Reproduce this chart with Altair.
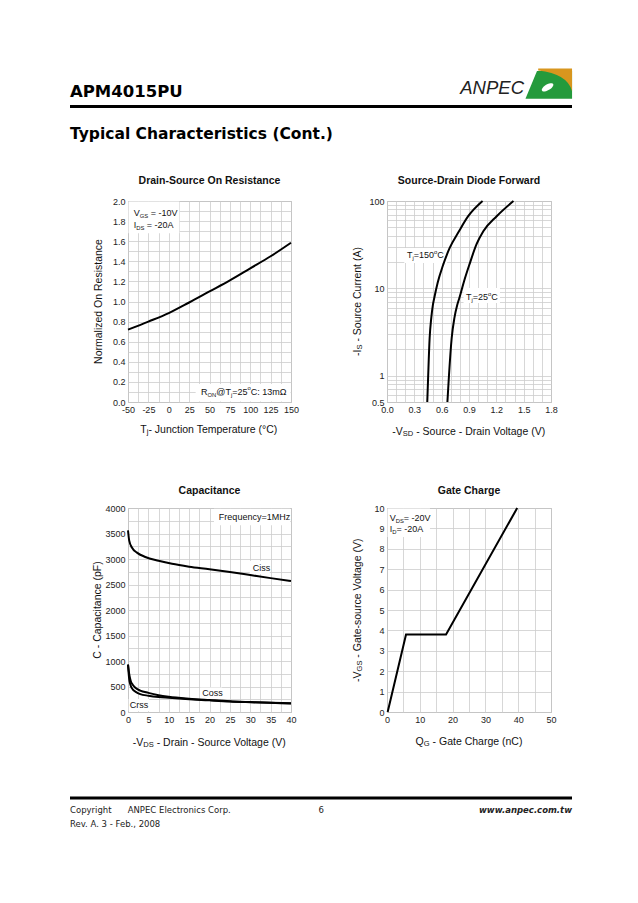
import json
import math
import altair as alt
import pandas as pd

FONT = "Liberation Sans"
PAGE_FONT = "DejaVu Sans"

# ---------------- data ----------------
tj_c = [-50, -25, 0, 25, 50, 75, 100, 125, 150]
ron_norm = [0.72, 0.80, 0.885, 0.99, 1.10, 1.21, 1.33, 1.45, 1.585]

is_150 = [0.5, 1, 2.7, 4.6, 6.4, 7.6, 11.6, 18, 29, 45, 67, 100]
vsd_150 = [0.442, 0.452, 0.468, 0.486, 0.503, 0.517, 0.556, 0.612, 0.688, 0.79, 0.891, 1.049]
is_25 = [0.5, 1, 2.7, 4.6, 6.4, 7.8, 12, 18.8, 32, 45, 67, 100]
vsd_25 = [0.663, 0.68, 0.71, 0.74, 0.77, 0.795, 0.845, 0.905, 0.983, 1.057, 1.204, 1.388]

vds_ciss = [0, 0.3, 1, 2.2, 4.25, 7.5, 10.8, 15, 20, 25, 30, 35, 40]
ciss_pf = [3560, 3360, 3220, 3125, 3040, 2965, 2905, 2850, 2800, 2745, 2685, 2625, 2570]
vds_cap = [0, 0.3, 0.65, 1.2, 1.9, 3, 5, 7.5, 10, 15, 20, 25, 30, 35, 40]
coss_pf = [930, 740, 610, 530, 470, 420, 375, 330, 300, 262, 235, 210, 195, 182, 170]
crss_pf = [930, 640, 520, 440, 395, 350, 320, 295, 280, 252, 228, 206, 192, 180, 168]

qg_nc = [0.2, 5.8, 18, 39.7]
vgs_v = [0, 3.8, 3.8, 10]

# grid / tick values
p1_x_grid = [-50 + 12.5 * i for i in range(17)]
p1_x_lab = [-50, -25, 0, 25, 50, 75, 100, 125, 150]
p1_y_grid = [round(0.1 * i, 1) for i in range(21)]
p1_y_lab = [round(0.2 * i, 1) for i in range(11)]
p2_x_grid = [round(0.1 * i, 1) for i in range(19)]
p2_x_lab = [0.0, 0.3, 0.6, 0.9, 1.2, 1.5, 1.8]
p2_y_grid = [0.5, 0.6, 0.7, 0.8, 0.9] + list(range(1, 10)) + list(range(10, 100, 10)) + [100]
p2_y_lab = [0.5, 1, 10, 100]
p3_x_grid = [2.5 * i for i in range(17)]
p3_x_lab = [5 * i for i in range(9)]
p3_y_grid = [250 * i for i in range(17)]
p3_y_lab = [500 * i for i in range(9)]
p4_x_grid = [5 * i for i in range(11)]
p4_x_lab = [10 * i for i in range(6)]
p4_y_grid = [0.5 * i for i in range(21)]
p4_y_lab = list(range(11))

ONE = pd.DataFrame({"a": [0]})

# approximate Arial advance widths (per 1000 em) for laying out sub/superscripts
W = {" ": 278, "=": 584, "-": 333, "@": 1015, ":": 278, ".": 278, "Ω": 768, "(": 333, ")": 333,
     "°": 400, "A": 667, "B": 667, "C": 722, "D": 722, "E": 667, "F": 611, "G": 778, "H": 722,
     "I": 278, "J": 500, "M": 833, "N": 722, "O": 778, "P": 667, "Q": 778, "R": 722, "S": 667,
     "T": 611, "V": 667, "a": 556, "b": 556, "c": 500, "d": 556, "e": 556, "f": 278, "g": 556,
     "h": 556, "i": 222, "j": 222, "k": 500, "l": 222, "m": 833, "n": 556, "o": 556, "p": 556,
     "q": 556, "r": 333, "s": 500, "t": 278, "u": 556, "v": 500, "w": 722, "y": 500, "z": 500}


def tw(s):
    return sum(W.get(c, 556) for c in s) / 1000.0


def label_expr(labels):
    return ("indexof(%s, datum.value) >= 0 ? replace(datum.label, '\u2212', '-') : ''"
            % json.dumps(labels))


class Enc:
    def __init__(self, sx, sy, ax, ay):
        self.sx, self.sy, self.ax, self.ay = sx, sy, ax, ay

    def X(self, f="x"):
        return alt.X(f + ":Q", scale=self.sx, axis=self.ax)

    def Y(self, f="y"):
        return alt.Y(f + ":Q", scale=self.sy, axis=self.ay)


def run_layers(runs, size, enc_fn, df, center=False, angle=0, sub_scale=0.65, sub_dy=3):
    """Text runs (normal / subscript / superscript) laid out with pixel offsets."""
    sizes = [size if k == "n" else size * sub_scale for _, k in runs]
    total = sum(tw(t) * s for (t, _), s in zip(runs, sizes))
    off = -total / 2 if center else 0.0
    out = []
    for (text, kind), fs in zip(runs, sizes):
        lead = len(text) - len(text.lstrip(" "))
        off += tw(" ") * fs * lead
        body = text.lstrip(" ")
        dy = {"n": 0, "sub": sub_dy, "sup": -3.5}[kind]
        kw = dict(text=body, align="left", baseline="middle", dx=off, dy=dy,
                  fontSize=fs, font=FONT, color="#111")
        if angle:
            kw["angle"] = angle
        out.append(enc_fn(alt.Chart(df).mark_text(**kw)))
        off += tw(body) * fs
    return out


def rich(e, x, y, runs, size=9):
    df = pd.DataFrame({"x": [x], "y": [y]})
    return run_layers(runs, size, lambda c: c.encode(x=e.X(), y=e.Y()), df)


def at(px, py_, runs, size=10.5, angle=0, center=True):
    return run_layers(runs, size, lambda c: c.encode(x=alt.value(px), y=alt.value(py_)), ONE,
                      center=center, angle=angle, sub_scale=0.72, sub_dy=2)


def panel(lines_df, e, title, w, h, boxes, texts, interp, toff, xt, yt, xty=29, ytx=-29, extra=()):
    layers = list(extra)
    if boxes:
        bdf = pd.DataFrame(boxes, columns=["x", "x2", "y", "y2"])
        layers.append(
            alt.Chart(bdf).mark_rect(color="white")
            .encode(x=e.X(), x2="x2:Q", y=e.Y(), y2="y2:Q")
        )
    layers.append(
        alt.Chart(lines_df).mark_line(color="black", strokeWidth=2, interpolate=interp)
        .encode(x=e.X(), y=e.Y(), detail="s:N", order="o:Q")
    )
    for t in texts:
        layers += t
    layers.append(
        alt.Chart(ONE).mark_text(text=title, font=FONT, fontSize=10.5, fontWeight="bold",
                                 align="center", baseline="alphabetic", color="#111")
        .encode(x=alt.value(w / 2), y=alt.value(-toff))
    )
    layers += at(w / 2, h + xty, xt)
    layers += at(ytx, h / 2, yt, angle=270)
    return alt.layer(*layers).properties(
        width=w, height=h,
        view=alt.ViewBackground(stroke="#a8a8a8", strokeWidth=1),
    )


def axis(grid, labels, fmt):
    return alt.Axis(values=grid, labelExpr=label_expr(labels), format=fmt, title=None)


def series(pairs):
    rows = []
    for name, xs, ys in pairs:
        for i, (a, b) in enumerate(zip(xs, ys)):
            rows.append({"s": name, "o": i, "x": a, "y": b})
    return pd.DataFrame(rows)


# ---------------- page decoration (relative to first panel's plot origin) ----------------
def vtext(text, x, y, **kw):
    return alt.Chart(ONE).mark_text(text=text, **kw).encode(x=alt.value(x), y=alt.value(y))


def hrule(y, x0, x1, w=3):
    return alt.Chart(ONE).mark_rule(strokeWidth=w, color="black").encode(
        x=alt.value(x0), x2=alt.value(x1), y=alt.value(y))


def sym(path, color, x, y, size):
    return alt.Chart(ONE).mark_point(shape=path, size=size, filled=True, color=color,
                                     opacity=1, strokeWidth=0).encode(x=alt.value(x), y=alt.value(y))


green_path = "M -0.98 0.61 L -0.5 -0.54 L 0.96 -0.54 L 0.96 0.61 Z"
orange_path = "M -0.45 -0.65 L 0.96 -0.65 L 0.96 0.3 Q 0.78 -0.42 -0.45 -0.56 Z"
ell = []
for k in range(24):
    t = 2 * math.pi * k / 24
    ex, ey = 0.27 * math.cos(t), 0.12 * math.sin(t)
    a = math.radians(-30)
    ell.append((-0.06 + ex * math.cos(a) - ey * math.sin(a), 0.14 + ex * math.sin(a) + ey * math.cos(a)))
white_path = "M " + " L ".join("%.3f %.3f" % p for p in ell) + " Z"

OX, OY = 126, 200  # page position of first panel's plot area
L, R = 68 - OX, 570 - OX


def py(y):
    return y - OY


page = [
    alt.Chart(ONE).mark_rect(fill="white", fillOpacity=0, strokeOpacity=0).encode(
        x=alt.value(L), x2=alt.value(R), y=alt.value(py(60)), y2=alt.value(py(840))),
    vtext("APM4015PU", L, py(96), align="left", baseline="alphabetic", font=PAGE_FONT,
          fontSize=16.5, fontWeight="bold", color="black"),
    hrule(py(105.5), L, R),
    vtext("Typical Characteristics (Cont.)", L, py(138.3), align="left", baseline="alphabetic",
          font=PAGE_FONT, fontSize=15.5, fontWeight="bold", color="black"),
    vtext("ANPEC", 522 - OX, py(92.7), align="right", baseline="alphabetic",
          font="Liberation Sans Narrow, Liberation Sans", fontSize=18.5, fontStyle="italic",
          color="#222"),
    sym(green_path, "#249a3c", 547 - OX, py(83), 2304),
    sym(orange_path, "#d8961e", 547 - OX, py(83), 2304),
    sym(white_path, "white", 547 - OX, py(83), 2304),
    hrule(py(797), L, R),
    vtext("Copyright", L, py(809.3), align="left", baseline="middle", font=PAGE_FONT, fontSize=8.5, color="#222"),
    vtext("ANPEC Electronics Corp.", 125.7 - OX, py(809.3), align="left", baseline="middle",
          font=PAGE_FONT, fontSize=8.5, color="#222"),
    vtext("6", 316.4 - OX, py(809.3), align="left", baseline="middle", font=PAGE_FONT, fontSize=8.5, color="#222"),
    vtext("www.anpec.com.tw", R, py(809.3), align="right", baseline="middle", font=PAGE_FONT,
          fontSize=8.5, fontWeight="bold", fontStyle="italic", color="#222"),
    vtext("Rev. A. 3 - Feb., 2008", L, py(822.7), align="left", baseline="middle", font=PAGE_FONT,
          fontSize=8.5, color="#222"),
]

WL, WR = 163, 164
H1, H2 = 201, 204

# ---- panel 1 ----
e1 = Enc(alt.Scale(domain=[-50, 150], nice=False, zero=False),
         alt.Scale(domain=[0, 2], nice=False),
         axis(p1_x_grid, p1_x_lab, "d"), axis(p1_y_grid, p1_y_lab, ".1f"))
p1 = panel(
    series([("r", tj_c, ron_norm)]), e1,
    "Drain-Source On Resistance", WL, H1,
    [(-49.4, 13, 1.68, 1.995), (33, 149.4, 0.005, 0.18)],
    [rich(e1, -43, 1.883, [("V", "n"), ("GS", "sub"), (" = -10V", "n")]),
     rich(e1, -43, 1.758, [("I", "n"), ("DS", "sub"), (" = -20A", "n")]),
     rich(e1, 39.6, 0.102, [("R", "n"), ("ON", "sub"), ("@T", "n"), ("j", "sub"), ("=25", "n"),
                            ("o", "sup"), ("C: 13mΩ", "n")])],
    "monotone", 17,
    [("T", "n"), ("j", "sub"), ("- Junction Temperature (°C)", "n")],
    [("Normalized On Resistance", "n")],
    xty=27.5, extra=page,
)

# ---- panel 2 ----
e2 = Enc(alt.Scale(domain=[0, 1.8], nice=False, zero=False),
         alt.Scale(type="log", domain=[0.5, 100], nice=False),
         axis(p2_x_grid, p2_x_lab, ".1f"), axis(p2_y_grid, p2_y_lab, "~g"))
p2 = panel(
    series([("150", vsd_150, is_150), ("25", vsd_25, is_25)]), e2,
    "Source-Drain Diode Forward", WR, H1,
    [(0.19, 0.66, 19.5, 29), (0.84, 1.24, 6.8, 10.1)],
    [rich(e2, 0.22, 23.9, [("T", "n"), ("j", "sub"), ("=150", "n"), ("o", "sup"), ("C", "n")]),
     rich(e2, 0.867, 7.96, [("T", "n"), ("j", "sub"), ("=25", "n"), ("o", "sup"), ("C", "n")])],
    "monotone", 17,
    [("-V", "n"), ("SD", "sub"), (" - Source - Drain Voltage (V)", "n")],
    [("-I", "n"), ("S", "sub"), (" - Source Current (A)", "n")],
    xty=30,
)

# ---- panel 3 ----
e3 = Enc(alt.Scale(domain=[0, 40], nice=False, zero=False),
         alt.Scale(domain=[0, 4000], nice=False),
         axis(p3_x_grid, p3_x_lab, "d"), axis(p3_y_grid, p3_y_lab, "d"))
p3 = panel(
    series([("ciss", vds_ciss, ciss_pf), ("coss", vds_cap, coss_pf), ("crss", vds_cap, crss_pf)]), e3,
    "Capacitance", WL, H2,
    [(21.1, 39.8, 3660, 3985), (29.9, 34.8, 2705, 2960), (17.7, 23.1, 250, 480), (0.15, 5.2, 15, 255)],
    [rich(e3, 22.3, 3824, [("Frequency=1MHz", "n")]),
     rich(e3, 30.6, 2830, [("Ciss", "n")]),
     rich(e3, 18.2, 367, [("Coss", "n")]),
     rich(e3, 0.4, 131, [("Crss", "n")])],
    "monotone", 14.5,
    [("-V", "n"), ("DS", "sub"), (" - Drain - Source Voltage (V)", "n")],
    [("C - Capacitance (pF)", "n")],
    xty=30.5, ytx=-30,
)

# ---- panel 4 ----
e4 = Enc(alt.Scale(domain=[0, 50], nice=False, zero=False),
         alt.Scale(domain=[0, 10], nice=False),
         axis(p4_x_grid, p4_x_lab, "d"), axis(p4_y_grid, p4_y_lab, "d"))
p4 = panel(
    series([("qg", qg_nc, vgs_v)]), e4,
    "Gate Charge", WR, H2,
    [(0.15, 13.1, 8.58, 9.97)],
    [rich(e4, 0.82, 9.5, [("V", "n"), ("DS", "sub"), ("= -20V", "n")]),
     rich(e4, 0.82, 8.99, [("I", "n"), ("D", "sub"), ("= -20A", "n")])],
    "linear", 14.5,
    [("Q", "n"), ("G", "sub"), (" - Gate Charge (nC)", "n")],
    [("-V", "n"), ("GS", "sub"), (" - Gate-source Voltage (V)", "n")],
    xty=29.5,
)

chart = alt.concat(
    p1, p2, p3, p4, columns=2, spacing={"row": 106, "column": 96}, bounds="flush"
).properties(
    padding={"left": 60, "top": 52, "right": 8, "bottom": 8},
    background="white",
).configure_view(stroke=None).configure_axis(
    labelFont=FONT, labelFontSize=9, labelColor="#222",
    ticks=False, domain=False, gridColor="#cdcdcd", gridWidth=0.8,
    labelPadding=3, labelFlush=False, labelOverlap=False,
)

chart.save("out.html", embed_options={"renderer": "svg", "actions": False})
